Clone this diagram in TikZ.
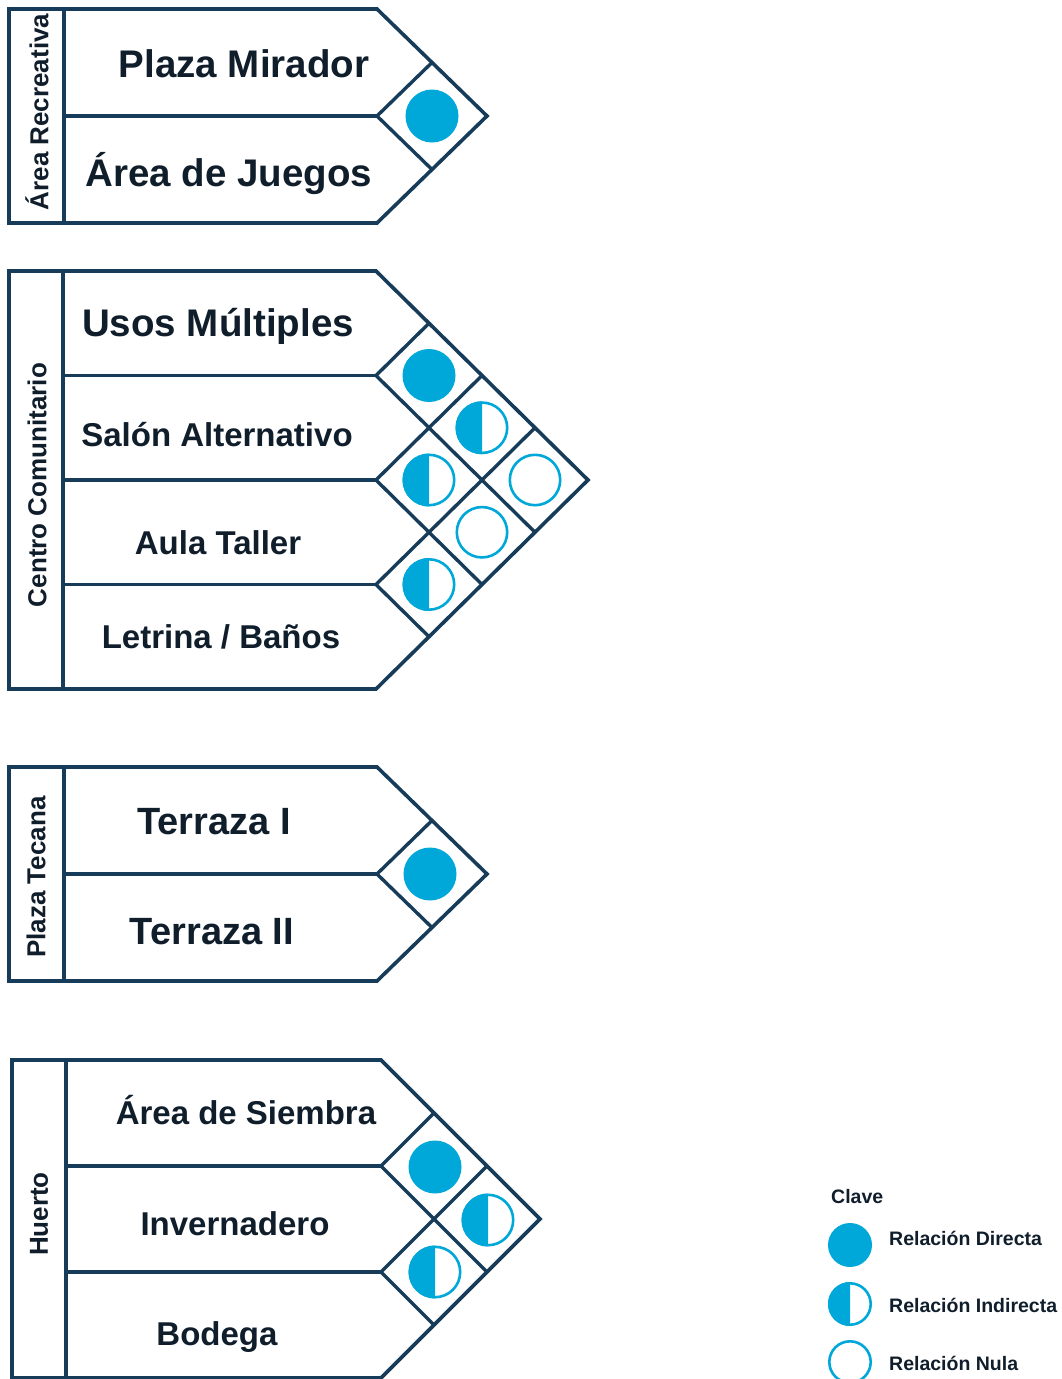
\documentclass[tikz,border=0pt]{standalone}
\usepackage{fontspec}
\setmainfont{Liberation Sans}
\definecolor{frame}{HTML}{163C5A}
\definecolor{ink}{HTML}{101E2C}
\definecolor{dot}{HTML}{00A8DA}
\tikzset{
  framestyle/.style={draw=frame, line width=3.6pt, line join=miter},
  gridstyle/.style={draw=frame, line width=3.4pt, line join=miter},
  rowlabel/.style={text=ink, font=\bfseries\fontsize{#1}{#1}\selectfont, anchor=base, inner sep=0pt},
  sidelabel/.style={text=ink, font=\bfseries\fontsize{26}{26}\selectfont, rotate=90, anchor=center, inner sep=0pt},
  keylabel/.style={text=ink, font=\bfseries\fontsize{19.5}{19.5}\selectfont, anchor=base west, inner sep=0pt},
}
\newcommand{\mkblock}[7]{%
  \pgfmathsetmacro\bB{#4+2*#5*#7}%
  \draw[framestyle] (#1,#4) -- (#3,#4) -- ({#3+#5*#6},{#4+#5*#7}) -- (#3,\bB) -- (#1,\bB) -- cycle;
  \draw[framestyle] (#2,#4) -- (#2,\bB);
  \pgfmathtruncatemacro\nm{#5-1}%
  \foreach \k in {1,...,\nm}{
    \draw[gridstyle] (#2,{#4+2*\k*#7}) -- (#3,{#4+2*\k*#7});
    \draw[gridstyle] ({#3+\k*#6},{#4+\k*#7}) -- (#3,{#4+2*\k*#7}) -- ({#3+(#5-\k)*#6},{#4+(#5+\k)*#7});
  }
}
\newcommand{\fulldot}[2]{\fill[dot] (#1) circle (#2);}
\newcommand{\halfdot}[2]{%
  \fill[white] (#1) circle (#2);
  \fill[dot] (#1) ++(90:#2) arc[start angle=90, end angle=270, radius=#2] -- cycle;
  \draw[dot, line width=2.6pt] (#1) circle ({#2-1.3pt});}
\newcommand{\emptydot}[2]{\draw[dot, line width=2.6pt] (#1) circle ({#2-1.3pt});}
\begin{document}
\begin{tikzpicture}[x=1pt, y=-1pt]
\useasboundingbox (0,0) rectangle (1062,1379);
\fill[white] (0,0) rectangle (1062,1379);

% ---------- Block 1: Area Recreativa ----------
\mkblock{9}{64}{377}{9}{2}{55}{53.5}
\coordinate (a12) at (432,116);
\fulldot{a12}{26.5pt}
\node[rowlabel=38.5] (plaza) at (244,77) {Plaza Mirador};
\node[rowlabel=38.5] (juegos) at (229,186) {Área de Juegos};
\node[sidelabel] (recre) at (37,112) {Área Recreativa};

% ---------- Block 2: Centro Comunitario ----------
\mkblock{9}{63}{376}{271}{4}{53}{52.25}
\coordinate (b12) at (429,375.5);
\coordinate (b13) at (482,427.75);
\coordinate (b23) at (429,480);
\coordinate (b14) at (535,480);
\coordinate (b24) at (482,532.25);
\coordinate (b34) at (429,584.5);
\fulldot{b12}{26.5pt}
\halfdot{b13}{26.5pt}
\halfdot{b23}{26.5pt}
\emptydot{b14}{26.5pt}
\emptydot{b24}{26.5pt}
\halfdot{b34}{26.5pt}
\node[rowlabel=38.5] (usos) at (218,336) {Usos Múltiples};
\node[rowlabel=33] (salon) at (217,446) {Salón Alternativo};
\node[rowlabel=33] (aula) at (218,554) {Aula Taller};
\node[rowlabel=33] (letrina) at (221,648) {Letrina / Baños};
\node[sidelabel] (centro) at (37,485) {Centro Comunitario};

% ---------- Block 3: Plaza Tecana ----------
\mkblock{9}{64}{377}{767}{2}{55}{53.5}
\coordinate (c12) at (430,874);
\fulldot{c12}{26.5pt}
\node[rowlabel=38] (terr1) at (214,834) {Terraza I};
\node[rowlabel=38] (terr2) at (212,944) {Terraza II};
\node[sidelabel] (tecana) at (36,877) {Plaza Tecana};

% ---------- Block 4: Huerto ----------
\mkblock{12}{66}{381}{1060}{3}{53}{53}
\coordinate (d12) at (435,1167);
\coordinate (d13) at (488,1220);
\coordinate (d23) at (435,1272);
\fulldot{d12}{26.5pt}
\halfdot{d13}{26.5pt}
\halfdot{d23}{26.5pt}
\node[rowlabel=33] (siembra) at (246,1124) {Área de Siembra};
\node[rowlabel=33] (inver) at (235,1235) {Invernadero};
\node[rowlabel=33] (bodega) at (217,1345) {Bodega};
\node[sidelabel] (huerto) at (39,1214) {Huerto};

% ---------- Legend ----------
\node[keylabel] (clave) at (831,1203) {Clave};
\coordinate (k1) at (850,1245);
\coordinate (k2) at (850,1304);
\coordinate (k3) at (850,1362);
\fulldot{k1}{22pt}
\halfdot{k2}{22pt}
\emptydot{k3}{22pt}
\node[keylabel] (kdir) at (889,1245) {Relación Directa};
\node[keylabel] (kind) at (889,1312) {Relación Indirecta};
\node[keylabel] (knul) at (889,1370) {Relación Nula};
\end{tikzpicture}
\end{document}
